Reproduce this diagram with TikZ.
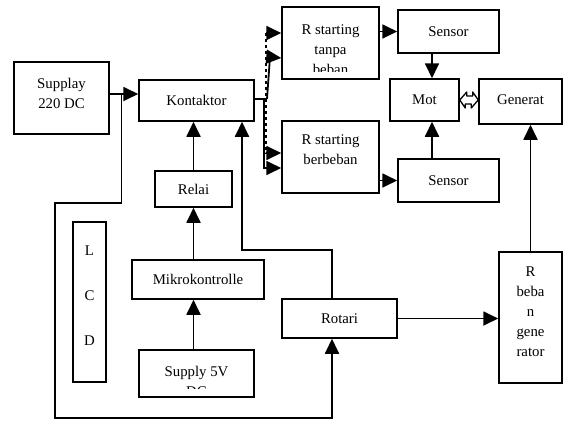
\documentclass[tikz,border=0pt]{standalone}
\usepackage{fontspec}
\setmainfont{Liberation Serif}
\usetikzlibrary{arrows.meta}

\tikzset{
  blok/.style={draw=black,line width=1.5pt,inner sep=0pt,align=center},
  panah/.style={line width=1.8pt,-{Triangle[length=15pt,width=14pt]}},
  garis/.style={line width=1.8pt},
  potong/.style 2 args={path picture={
    \clip ([yshift=#1]path picture bounding box.south west) rectangle (path picture bounding box.north east);
    \node[align=center,inner sep=0pt] at ([yshift=#2]path picture bounding box.center) {\teks};}}
}

\begin{document}
\begin{tikzpicture}[x=1pt,y=-1pt,font=\fontsize{14.8}{20}\selectfont]
	\useasboundingbox (0,0) rectangle (563,421);
	\node[blok,minimum width=95,minimum height=72,label={[yshift=5pt,align=center]center:Supplay\\220 DC}] (supplay) at (61.5,98) {};
	\node[blok,minimum width=115,minimum height=41] (kontaktor) at (196.5,100.5) {Kontaktor};
	\node[blok,minimum width=77,minimum height=36] (relai) at (193.5,189) {Relai};
	\node[blok,minimum width=132,minimum height=39] (mikro) at (198,279.5) {Mikrokontrolle};
	\def\teks{Supply 5V\\DC}
	\node[blok,minimum width=115,minimum height=47,potong={9pt}{-7.5pt}] (supply5) at (196.5,373.5) {};
	\node[blok,minimum width=33,minimum height=160,label={[yshift=6pt,align=center,font=\fontsize{14.8}{45}\selectfont]center:L\\C\\D}] (lcd) at (89.5,302) {};
	\node[blok,minimum width=115,minimum height=39] (rotari) at (339.5,318.5) {Rotari};
	\node[blok,minimum width=63,minimum height=131,label={[yshift=5.5pt,align=center]center:R\\beba\\n\\gene\\rator}] (rbeban) at (530.5,317.5) {};
	\def\teks{R starting\\tanpa\\beban}
	\node[blok,minimum width=97,minimum height=72,potong={7.2pt}{-7pt}] (rtanpa) at (330.5,43) {};
	\node[blok,minimum width=97,minimum height=72,label={[yshift=7pt,align=center]center:R starting\\berbeban}] (rberbeban) at (330.5,157) {};
	\node[blok,minimum width=101,minimum height=43] (sensor1) at (448.5,31.5) {Sensor};
	\node[blok,minimum width=101,minimum height=43] (sensor2) at (448.5,180.5) {Sensor};
	\node[blok,minimum width=69,minimum height=42] (mot) at (424.5,100) {Mot};
	\node[blok,minimum width=83,minimum height=45,label={[yshift=2pt]center:Generat}] (generat) at (520.5,101.5) {};
	\coordinate (cab) at (121.5,94);
	\coordinate (b1) at (121.5,203);
	\coordinate (b2) at (55,203);
	\coordinate (b3) at (55,418);
	\coordinate (b4) at (332,418);
	\coordinate (r1) at (332,250);
	\coordinate (r2) at (242,250);
	\coordinate (sm) at (432,100);
	\coordinate (ko) at (264,99);
	\coordinate (ka) at (264,168);
	\coordinate (kd) at (267,99);
	\coordinate (ke) at (270,57);
	\coordinate (d1) at (266,33);
	\coordinate (d2) at (266,153);
	\draw[garis] (supplay.east |- cab) -- (cab);
	\draw[panah] (cab) -- (kontaktor.west |- cab);
	\draw[panah] (cab) -- (b1) -- (b2) -- (b3) -- (b4) -- (b4 |- rotari.south);
	\draw[panah] (b4 |- rotari.north) -- (r1) -- (r2) -- (r2 |- kontaktor.south);
	\draw[panah] (relai.north) -- (relai.north |- kontaktor.south);
	\draw[panah] (mikro.north -| relai.north) -- (relai.south);
	\draw[panah] (supply5.north -| relai.north) -- (mikro.south -| relai.north);
	\draw[panah] (rotari.east) -- (rotari.east -| rbeban.west);
	\draw[panah] (rbeban.north) -- (rbeban.north |- generat.south);
	\draw[panah] (rtanpa.east |- sensor1) -- (sensor1.west);
	\draw[panah] (rberbeban.east |- sensor2) -- (sensor2.west);
	\draw[panah] (sensor1.south -| sm) -- (mot.north -| sm);
	\draw[panah] (sensor2.north -| sm) -- (mot.south -| sm);
	\draw[line width=1.3pt,line join=round] (mot.east) -- ++(7,-8) -- ++(0,4) -- ++(6,0) -- ++(0,-4) -- (generat.west |- mot.east) -- ++(-7,8) -- ++(0,-4) -- ++(-6,0) -- ++(0,4) -- cycle;
	\draw[garis] (kontaktor.east |- ko) -- (kd);
	\draw[panah] (ko) -- (ka) -- (rberbeban.west |- ka);
	\draw[panah] (kd) -- (ke) -- ([yshift=-1pt]rtanpa.west |- ke);
	\draw[panah,dashed] (d1) -- (d2) -- (rberbeban.west |- d2);
	\draw[panah] (d1) -- (rtanpa.west |- d1);
\end{tikzpicture}
\end{document}
